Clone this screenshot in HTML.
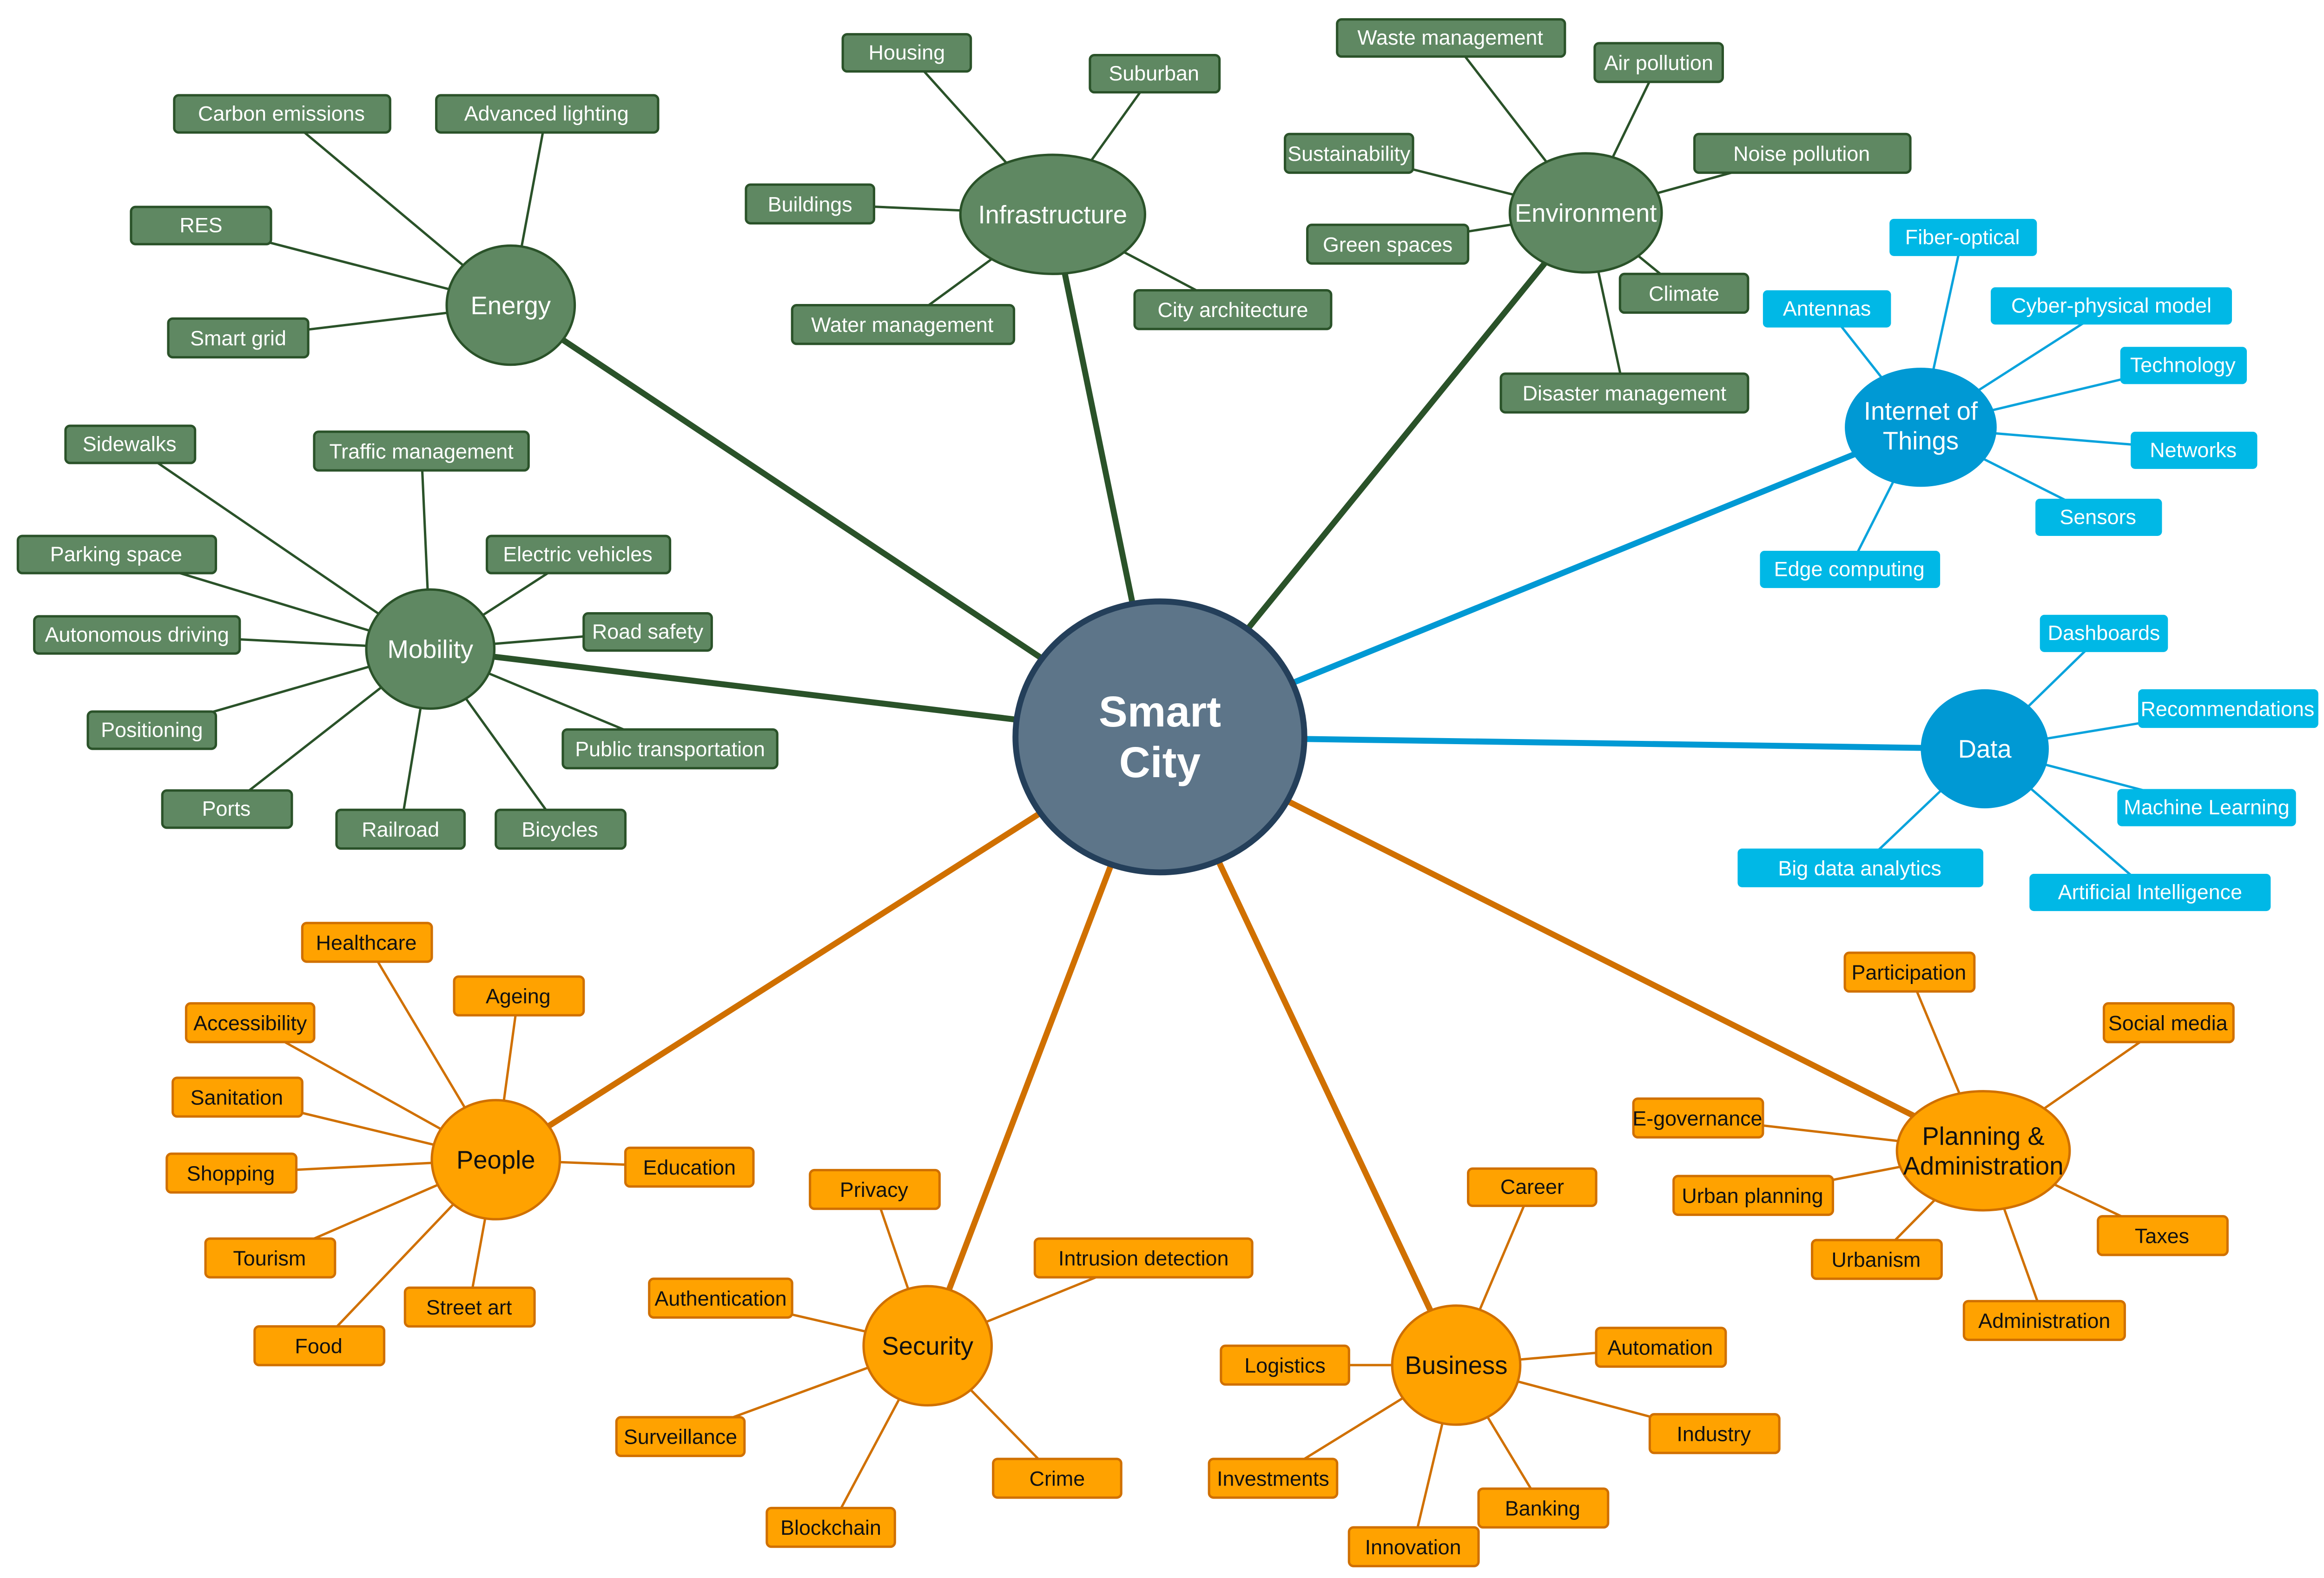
<!DOCTYPE html>
<html><head><meta charset="utf-8"><style>
html,body{margin:0;padding:0;background:#fff}
svg{display:block}
text{font-family:"Liberation Sans",Arial,sans-serif;text-anchor:middle}
.g line{stroke:#2a5229;stroke-width:1.6}
.b line{stroke:#0aa3dc;stroke-width:1.6}
.o line{stroke:#d07000;stroke-width:1.6}
.gr{fill:#5f8862;stroke:#2a5229;stroke-width:1.6}
.br{fill:#00b8e6}
.or{fill:#ffa200;stroke:#d07000;stroke-width:1.6}
.lw{fill:#fff;font-size:14px}
.lk{fill:#111;font-size:14px}
.h{font-size:17px}
</style></head><body>
<svg width="5007" height="3395" viewBox="0 0 1563 1060" preserveAspectRatio="none" xmlns="http://www.w3.org/2000/svg">
<rect width="1563" height="1060" fill="#fff"/>
<!-- main branches -->
<g stroke-width="4" fill="none">
<line x1="779" y1="495" x2="343" y2="205" stroke="#2a5229"/>
<line x1="779" y1="495" x2="707" y2="144" stroke="#2a5229"/>
<line x1="779" y1="495" x2="1065" y2="143" stroke="#2a5229"/>
<line x1="779" y1="495" x2="289" y2="436" stroke="#2a5229"/>
<line x1="779" y1="495" x2="1290" y2="287" stroke="#0099d4"/>
<line x1="779" y1="495" x2="1333" y2="503" stroke="#0099d4"/>
<line x1="779" y1="495" x2="333" y2="779" stroke="#d07000"/>
<line x1="779" y1="495" x2="623" y2="904" stroke="#d07000"/>
<line x1="779" y1="495" x2="978" y2="917" stroke="#d07000"/>
<line x1="779" y1="495" x2="1332" y2="773" stroke="#d07000"/>
</g>
<!-- leaf lines -->
<g class="g">
<line x1="343" y1="205" x2="189" y2="76"/><line x1="343" y1="205" x2="367" y2="76"/><line x1="343" y1="205" x2="135" y2="151"/><line x1="343" y1="205" x2="160" y2="227"/>
<line x1="707" y1="144" x2="609" y2="35"/><line x1="707" y1="144" x2="775" y2="49"/><line x1="707" y1="144" x2="544" y2="137"/><line x1="707" y1="144" x2="606" y2="218"/><line x1="707" y1="144" x2="828" y2="208"/>
<line x1="1065" y1="143" x2="974" y2="25"/><line x1="1065" y1="143" x2="1114" y2="42"/><line x1="1065" y1="143" x2="906" y2="103"/><line x1="1065" y1="143" x2="1210" y2="103"/><line x1="1065" y1="143" x2="932" y2="164"/><line x1="1065" y1="143" x2="1131" y2="197"/><line x1="1065" y1="143" x2="1091" y2="264"/>
<line x1="289" y1="436" x2="87" y2="298"/><line x1="289" y1="436" x2="283" y2="303"/><line x1="289" y1="436" x2="78" y2="372"/><line x1="289" y1="436" x2="388" y2="372"/><line x1="289" y1="436" x2="92" y2="426"/><line x1="289" y1="436" x2="435" y2="424"/><line x1="289" y1="436" x2="102" y2="490"/><line x1="289" y1="436" x2="450" y2="503"/><line x1="289" y1="436" x2="152" y2="543"/><line x1="289" y1="436" x2="269" y2="557"/><line x1="289" y1="436" x2="376" y2="557"/>
</g>
<g class="b">
<line x1="1290" y1="287" x2="1318" y2="159"/><line x1="1290" y1="287" x2="1227" y2="207"/><line x1="1290" y1="287" x2="1418" y2="205"/><line x1="1290" y1="287" x2="1466" y2="245"/><line x1="1290" y1="287" x2="1473" y2="302"/><line x1="1290" y1="287" x2="1409" y2="347"/><line x1="1290" y1="287" x2="1242" y2="382"/>
<line x1="1333" y1="503" x2="1413" y2="425"/><line x1="1333" y1="503" x2="1496" y2="476"/><line x1="1333" y1="503" x2="1482" y2="542"/><line x1="1333" y1="503" x2="1249" y2="583"/><line x1="1333" y1="503" x2="1444" y2="599"/>
</g>
<g class="o">
<line x1="333" y1="779" x2="246" y2="633"/><line x1="333" y1="779" x2="348" y2="669"/><line x1="333" y1="779" x2="168" y2="687"/><line x1="333" y1="779" x2="159" y2="737"/><line x1="333" y1="779" x2="463" y2="784"/><line x1="333" y1="779" x2="155" y2="788"/><line x1="333" y1="779" x2="181" y2="845"/><line x1="333" y1="779" x2="315" y2="878"/><line x1="333" y1="779" x2="214" y2="904"/>
<line x1="623" y1="904" x2="587" y2="799"/><line x1="623" y1="904" x2="768" y2="845"/><line x1="623" y1="904" x2="484" y2="872"/><line x1="623" y1="904" x2="457" y2="965"/><line x1="623" y1="904" x2="710" y2="993"/><line x1="623" y1="904" x2="558" y2="1026"/>
<line x1="978" y1="917" x2="1029" y2="797"/><line x1="978" y1="917" x2="863" y2="917"/><line x1="978" y1="917" x2="1115" y2="905"/><line x1="978" y1="917" x2="1151" y2="963"/><line x1="978" y1="917" x2="855" y2="993"/><line x1="978" y1="917" x2="1036" y2="1013"/><line x1="978" y1="917" x2="949" y2="1039"/>
<line x1="1332" y1="773" x2="1282" y2="653"/><line x1="1332" y1="773" x2="1456" y2="687"/><line x1="1332" y1="773" x2="1140" y2="751"/><line x1="1332" y1="773" x2="1177" y2="803"/><line x1="1332" y1="773" x2="1452" y2="830"/><line x1="1332" y1="773" x2="1260" y2="846"/><line x1="1332" y1="773" x2="1373" y2="887"/>
</g>
<!-- green leaves -->
<g>
<rect class="gr" x="117" y="64" width="145" height="25" rx="3"/><text class="lw" x="189" y="81">Carbon emissions</text>
<rect class="gr" x="293" y="64" width="149" height="25" rx="3"/><text class="lw" x="367" y="81">Advanced lighting</text>
<rect class="gr" x="88" y="139" width="94" height="25" rx="3"/><text class="lw" x="135" y="156">RES</text>
<rect class="gr" x="113" y="214" width="94" height="26" rx="3"/><text class="lw" x="160" y="232">Smart grid</text>
<rect class="gr" x="566" y="23" width="86" height="25" rx="3"/><text class="lw" x="609" y="40">Housing</text>
<rect class="gr" x="732" y="37" width="87" height="25" rx="3"/><text class="lw" x="775" y="54">Suburban</text>
<rect class="gr" x="501" y="124" width="86" height="26" rx="3"/><text class="lw" x="544" y="142">Buildings</text>
<rect class="gr" x="532" y="205" width="149" height="26" rx="3"/><text class="lw" x="606" y="223">Water management</text>
<rect class="gr" x="762" y="195" width="132" height="26" rx="3"/><text class="lw" x="828" y="213">City architecture</text>
<rect class="gr" x="898" y="13" width="153" height="25" rx="3"/><text class="lw" x="974" y="30">Waste management</text>
<rect class="gr" x="1071" y="29" width="86" height="26" rx="3"/><text class="lw" x="1114" y="47">Air pollution</text>
<rect class="gr" x="863" y="90" width="86" height="26" rx="3"/><text class="lw" x="906" y="108">Sustainability</text>
<rect class="gr" x="1138" y="90" width="145" height="26" rx="3"/><text class="lw" x="1210" y="108">Noise pollution</text>
<rect class="gr" x="878" y="151" width="108" height="26" rx="3"/><text class="lw" x="932" y="169">Green spaces</text>
<rect class="gr" x="1088" y="184" width="86" height="26" rx="3"/><text class="lw" x="1131" y="202">Climate</text>
<rect class="gr" x="1008" y="251" width="166" height="26" rx="3"/><text class="lw" x="1091" y="269">Disaster management</text>
<rect class="gr" x="44" y="286" width="87" height="25" rx="3"/><text class="lw" x="87" y="303">Sidewalks</text>
<rect class="gr" x="211" y="290" width="144" height="26" rx="3"/><text class="lw" x="283" y="308">Traffic management</text>
<rect class="gr" x="12" y="360" width="133" height="25" rx="3"/><text class="lw" x="78" y="377">Parking space</text>
<rect class="gr" x="327" y="360" width="123" height="25" rx="3"/><text class="lw" x="388" y="377">Electric vehicles</text>
<rect class="gr" x="23" y="414" width="138" height="25" rx="3"/><text class="lw" x="92" y="431">Autonomous driving</text>
<rect class="gr" x="392" y="412" width="86" height="25" rx="3"/><text class="lw" x="435" y="429">Road safety</text>
<rect class="gr" x="59" y="478" width="86" height="25" rx="3"/><text class="lw" x="102" y="495">Positioning</text>
<rect class="gr" x="378" y="490" width="144" height="26" rx="3"/><text class="lw" x="450" y="508">Public transportation</text>
<rect class="gr" x="109" y="531" width="87" height="25" rx="3"/><text class="lw" x="152" y="548">Ports</text>
<rect class="gr" x="226" y="544" width="86" height="26" rx="3"/><text class="lw" x="269" y="562">Railroad</text>
<rect class="gr" x="333" y="544" width="87" height="26" rx="3"/><text class="lw" x="376" y="562">Bicycles</text>
</g>
<!-- cyan leaves -->
<g>
<rect class="br" x="1269" y="147" width="99" height="25" rx="3"/><text class="lw" x="1318" y="164">Fiber-optical</text>
<rect class="br" x="1184" y="195" width="86" height="25" rx="3"/><text class="lw" x="1227" y="212">Antennas</text>
<rect class="br" x="1337" y="193" width="162" height="25" rx="3"/><text class="lw" x="1418" y="210">Cyber-physical model</text>
<rect class="br" x="1424" y="233" width="85" height="25" rx="3"/><text class="lw" x="1466" y="250">Technology</text>
<rect class="br" x="1431" y="290" width="85" height="25" rx="3"/><text class="lw" x="1473" y="307">Networks</text>
<rect class="br" x="1367" y="335" width="85" height="25" rx="3"/><text class="lw" x="1409" y="352">Sensors</text>
<rect class="br" x="1182" y="370" width="121" height="25" rx="3"/><text class="lw" x="1242" y="387">Edge computing</text>
<rect class="br" x="1370" y="413" width="86" height="25" rx="3"/><text class="lw" x="1413" y="430">Dashboards</text>
<rect class="br" x="1436" y="463" width="121" height="26" rx="3"/><text class="lw" x="1496" y="481">Recommendations</text>
<rect class="br" x="1422" y="530" width="120" height="25" rx="3"/><text class="lw" x="1482" y="547">Machine Learning</text>
<rect class="br" x="1167" y="570" width="165" height="26" rx="3"/><text class="lw" x="1249" y="588">Big data analytics</text>
<rect class="br" x="1363" y="587" width="162" height="25" rx="3"/><text class="lw" x="1444" y="604">Artificial Intelligence</text>
</g>
<!-- orange leaves -->
<g>
<rect class="or" x="203" y="620" width="87" height="26" rx="3"/><text class="lk" x="246" y="638">Healthcare</text>
<rect class="or" x="305" y="656" width="87" height="26" rx="3"/><text class="lk" x="348" y="674">Ageing</text>
<rect class="or" x="125" y="674" width="86" height="26" rx="3"/><text class="lk" x="168" y="692">Accessibility</text>
<rect class="or" x="116" y="724" width="87" height="26" rx="3"/><text class="lk" x="159" y="742">Sanitation</text>
<rect class="or" x="420" y="771" width="86" height="26" rx="3"/><text class="lk" x="463" y="789">Education</text>
<rect class="or" x="112" y="775" width="87" height="26" rx="3"/><text class="lk" x="155" y="793">Shopping</text>
<rect class="or" x="138" y="832" width="87" height="26" rx="3"/><text class="lk" x="181" y="850">Tourism</text>
<rect class="or" x="272" y="865" width="87" height="26" rx="3"/><text class="lk" x="315" y="883">Street art</text>
<rect class="or" x="171" y="891" width="87" height="26" rx="3"/><text class="lk" x="214" y="909">Food</text>
<rect class="or" x="544" y="786" width="87" height="26" rx="3"/><text class="lk" x="587" y="804">Privacy</text>
<rect class="or" x="695" y="832" width="146" height="26" rx="3"/><text class="lk" x="768" y="850">Intrusion detection</text>
<rect class="or" x="436" y="859" width="96" height="26" rx="3"/><text class="lk" x="484" y="877">Authentication</text>
<rect class="or" x="414" y="952" width="86" height="26" rx="3"/><text class="lk" x="457" y="970">Surveillance</text>
<rect class="or" x="667" y="980" width="86" height="26" rx="3"/><text class="lk" x="710" y="998">Crime</text>
<rect class="or" x="515" y="1013" width="86" height="26" rx="3"/><text class="lk" x="558" y="1031">Blockchain</text>
<rect class="or" x="986" y="785" width="86" height="25" rx="3"/><text class="lk" x="1029" y="802">Career</text>
<rect class="or" x="820" y="904" width="86" height="26" rx="3"/><text class="lk" x="863" y="922">Logistics</text>
<rect class="or" x="1072" y="892" width="87" height="26" rx="3"/><text class="lk" x="1115" y="910">Automation</text>
<rect class="or" x="1108" y="950" width="87" height="26" rx="3"/><text class="lk" x="1151" y="968">Industry</text>
<rect class="or" x="812" y="980" width="86" height="26" rx="3"/><text class="lk" x="855" y="998">Investments</text>
<rect class="or" x="993" y="1000" width="87" height="26" rx="3"/><text class="lk" x="1036" y="1018">Banking</text>
<rect class="or" x="906" y="1026" width="87" height="26" rx="3"/><text class="lk" x="949" y="1044">Innovation</text>
<rect class="or" x="1239" y="640" width="87" height="26" rx="3"/><text class="lk" x="1282" y="658">Participation</text>
<rect class="or" x="1413" y="674" width="87" height="26" rx="3"/><text class="lk" x="1456" y="692">Social media</text>
<rect class="or" x="1097" y="738" width="87" height="26" rx="3"/><text class="lk" x="1140" y="756">E-governance</text>
<rect class="or" x="1124" y="790" width="107" height="26" rx="3"/><text class="lk" x="1177" y="808">Urban planning</text>
<rect class="or" x="1409" y="817" width="87" height="26" rx="3"/><text class="lk" x="1452" y="835">Taxes</text>
<rect class="or" x="1217" y="833" width="87" height="26" rx="3"/><text class="lk" x="1260" y="851">Urbanism</text>
<rect class="or" x="1319" y="874" width="108" height="26" rx="3"/><text class="lk" x="1373" y="892">Administration</text>
</g>
<!-- hubs -->
<g>
<ellipse cx="343" cy="205" rx="43" ry="40" class="gr"/><text class="lw h" x="343" y="211">Energy</text>
<ellipse cx="707" cy="144" rx="62" ry="40" class="gr"/><text class="lw h" x="707" y="150">Infrastructure</text>
<ellipse cx="1065" cy="143" rx="51" ry="40" class="gr"/><text class="lw h" x="1065" y="149">Environment</text>
<ellipse cx="289" cy="436" rx="43" ry="40" class="gr"/><text class="lw h" x="289" y="442">Mobility</text>
<ellipse cx="1290" cy="287" rx="51" ry="40" fill="#0099d4"/><text class="lw h" x="1290" y="282">Internet of</text><text class="lw h" x="1290" y="302">Things</text>
<ellipse cx="1333" cy="503" rx="43" ry="40" fill="#0099d4"/><text class="lw h" x="1333" y="509">Data</text>
<ellipse cx="333" cy="779" rx="43" ry="40" class="or"/><text class="lk h" x="333" y="785">People</text>
<ellipse cx="623" cy="904" rx="43" ry="40" class="or"/><text class="lk h" x="623" y="910">Security</text>
<ellipse cx="978" cy="917" rx="43" ry="40" class="or"/><text class="lk h" x="978" y="923">Business</text>
<ellipse cx="1332" cy="773" rx="58" ry="40" class="or"/><text class="lk h" x="1332" y="769">Planning &amp;</text><text class="lk h" x="1332" y="789">Administration</text>
<ellipse cx="779" cy="495" rx="97" ry="91" fill="#5d7589" stroke="#243f5a" stroke-width="4"/>
<text x="779" y="488" fill="#fff" font-size="29" font-weight="bold">Smart</text>
<text x="779" y="522" fill="#fff" font-size="29" font-weight="bold">City</text>
</g>
</svg>
</body></html>
